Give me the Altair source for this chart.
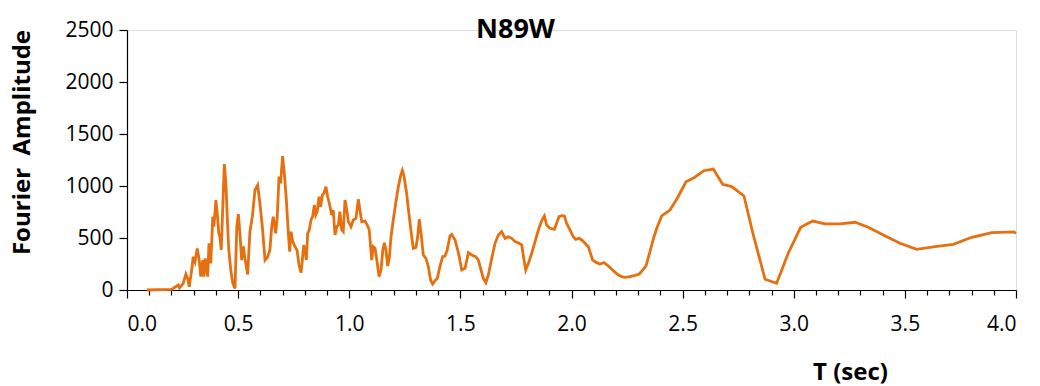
import altair as alt
import pandas as pd

# Fourier amplitude spectrum, component N89W, plotted against period T (sec)
T_SEC = [
    0.089, 0.201, 0.231, 0.236, 0.253, 0.265, 0.273, 0.280, 0.291, 0.298,
    0.306, 0.316, 0.325, 0.332, 0.341, 0.346, 0.352, 0.363, 0.369, 0.377,
    0.386, 0.391, 0.400, 0.406, 0.413, 0.418, 0.424, 0.431, 0.438, 0.445,
    0.451, 0.458, 0.467, 0.476, 0.486, 0.494, 0.501, 0.508, 0.516, 0.523,
    0.531, 0.543, 0.553, 0.564, 0.576, 0.588, 0.598, 0.609, 0.621, 0.633,
    0.643, 0.651, 0.658, 0.669, 0.676, 0.684, 0.691, 0.700, 0.708, 0.717,
    0.726, 0.732, 0.738, 0.746, 0.756, 0.765, 0.774, 0.783, 0.789, 0.795,
    0.801, 0.807, 0.813, 0.820, 0.828, 0.835, 0.843, 0.849, 0.856, 0.864,
    0.871, 0.879, 0.886, 0.895, 0.903, 0.912, 0.921, 0.928, 0.936, 0.944,
    0.951, 0.958, 0.966, 0.973, 0.981, 0.989, 0.996, 1.008, 1.018, 1.030,
    1.041, 1.048, 1.056, 1.071, 1.081, 1.090, 1.101, 1.108, 1.116, 1.124,
    1.134, 1.143, 1.151, 1.158, 1.165, 1.173, 1.180, 1.188, 1.198, 1.209,
    1.221, 1.232, 1.239, 1.246, 1.258, 1.270, 1.281, 1.288, 1.300, 1.308,
    1.315, 1.323, 1.333, 1.345, 1.356, 1.366, 1.375, 1.386, 1.396, 1.408,
    1.420, 1.431, 1.441, 1.453, 1.461, 1.476, 1.486, 1.495, 1.506, 1.521,
    1.536, 1.551, 1.569, 1.581, 1.593, 1.603, 1.615, 1.626, 1.641, 1.656,
    1.671, 1.686, 1.701, 1.716, 1.731, 1.746, 1.764, 1.776, 1.784, 1.794,
    1.806, 1.821, 1.836, 1.851, 1.866, 1.878, 1.888, 1.903, 1.923, 1.933,
    1.944, 1.956, 1.968, 1.978, 1.993, 2.008, 2.019, 2.034, 2.046, 2.061,
    2.076, 2.095, 2.113, 2.128, 2.146, 2.166, 2.185, 2.206, 2.226, 2.241,
    2.263, 2.286, 2.305, 2.320, 2.335, 2.353, 2.371, 2.386, 2.406, 2.443,
    2.476, 2.515, 2.551, 2.596, 2.638, 2.680, 2.721, 2.776, 2.818, 2.871,
    2.923, 2.975, 3.031, 3.085, 3.141, 3.208, 3.276, 3.335, 3.403, 3.478,
    3.553, 3.636, 3.718, 3.801, 3.891, 3.991, 4.000,
]

AMPLITUDE = [
    0, 5, 48, 20, 64, 154, 112, 32, 192, 320,
    272, 400, 288, 128, 288, 128, 304, 128, 448, 256,
    705, 608, 865, 737, 545, 512, 385, 800, 1211, 1025,
    705, 385, 192, 64, 16, 608, 730, 545, 288, 420,
    300, 150, 560, 705, 962, 1010, 834, 608, 288, 320,
    385, 608, 705, 545, 705, 1090, 1025, 1288, 1122, 865,
    545, 368, 561, 465, 416, 385, 240, 166, 288, 432,
    385, 288, 545, 577, 673, 705, 817, 721, 753, 897,
    801, 913, 930, 994, 897, 817, 721, 769, 529, 608,
    625, 753, 577, 561, 865, 769, 657, 608, 673, 689,
    872, 769, 657, 663, 625, 577, 288, 416, 401, 288,
    128, 192, 385, 455, 385, 231, 304, 512, 673, 834,
    994, 1106, 1150, 1100, 930, 705, 512, 401, 410, 512,
    680, 545, 337, 304, 224, 96, 58, 90, 112, 224,
    320, 327, 385, 519, 535, 481, 401, 320, 192, 208,
    359, 337, 320, 288, 192, 112, 70, 144, 304, 449,
    529, 561, 497, 512, 497, 465, 449, 433, 320, 192,
    256, 353, 465, 577, 667, 712, 625, 593, 584, 641,
    705, 715, 712, 641, 577, 512, 487, 497, 481, 449,
    416, 288, 263, 250, 263, 231, 192, 151, 128, 122,
    128, 141, 154, 192, 231, 368, 512, 608, 712, 769,
    882, 1041, 1080, 1147, 1163, 1016, 994, 904, 529, 103,
    64, 353, 603, 663, 635, 635, 651, 603, 529, 449,
    391, 416, 439, 507, 551, 558, 545,
]

# ticks every 0.1 s, labelled and drawn full length every 0.5 s
X_TICKS = [round(i * 0.1, 1) for i in range(41)]
Y_TICKS = [0, 500, 1000, 1500, 2000, 2500]

df = pd.DataFrame({"T": T_SEC, "A": AMPLITUDE})

FONT = "Open Sans"
IS_MAJOR = "abs(datum.value * 2 - round(datum.value * 2)) < 0.001"

line = alt.Chart(df).mark_line(color="#E6700F", strokeWidth=2.8).encode(
    x=alt.X(
        "T:Q",
        scale=alt.Scale(domain=[0, 4], nice=False, zero=False),
        axis=alt.Axis(
            values=X_TICKS,
            labelExpr=f"{IS_MAJOR} ? format(datum.value, '.1f') : ''",
            labelOverlap=False,
            title="T (sec)",
            titleFont=FONT,
            titleFontSize=24,
            titleFontWeight="bold",
            titleColor="#000000",
            titleX=723,
            titleY=82,
            titleAlign="center",
            titleBaseline="middle",
            labelFont=FONT,
            labelFontSize=21,
            labelColor="#000000",
            labelPadding=15,
            tickSize=8,
            # minor ticks: only the first 5 px of each tick stroke is drawn
            tickDash={"condition": {"test": IS_MAJOR, "value": [8, 0]}, "value": [5, 20]},
            tickColor="#000000",
            tickWidth=1.2,
            domainColor="#000000",
            domainWidth=1.2,
            grid=False,
        ),
    ),
    y=alt.Y(
        "A:Q",
        scale=alt.Scale(domain=[0, 2500], nice=False),
        axis=alt.Axis(
            values=Y_TICKS,
            format="d",
            title="Fourier\u00a0 Amplitude",
            titleFont=FONT,
            titleFontSize=24,
            titleFontWeight="bold",
            titleColor="#000000",
            titleAngle=270,
            titleX=-105,
            titleY=112,
            titleAlign="center",
            titleBaseline="middle",
            labelFont=FONT,
            labelFontSize=21,
            labelColor="#000000",
            labelPadding=6,
            tickSize=8,
            tickColor="#000000",
            tickWidth=1.2,
            domainColor="#000000",
            domainWidth=1.2,
            grid=False,
        ),
    ),
)

chart = (
    line.properties(
        width=889,
        height=260,
        autosize=alt.AutoSizeParams(type="none"),
        padding={"left": 127, "top": 30, "right": 24, "bottom": 96},
        title=alt.TitleParams(
            "N89W",
            font=FONT,
            fontSize=27,
            fontWeight="bold",
            color="#000000",
            anchor="middle",
            baseline="middle",
            offset=0,
            dx=-56,
            dy=38,
        ),
    )
    .configure_view(stroke=None)
    .configure(background="white")
)

chart.save("out.html", embed_options={"renderer": "svg", "actions": False})
